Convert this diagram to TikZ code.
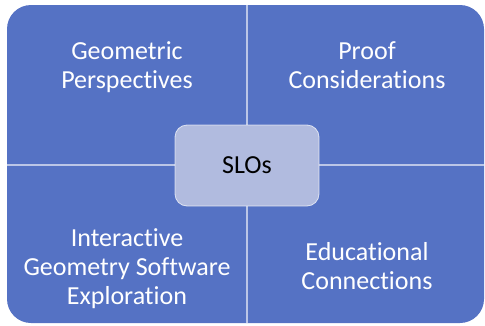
\documentclass[tikz,border=0pt]{standalone}
\usepackage{fontspec}
\setmainfont{Carlito}[Ligatures=CommonOff]
\usepackage{xcolor}
\usetikzlibrary{positioning}

\definecolor{quadblue}{RGB}{85,114,196}
\definecolor{sloslate}{RGB}{177,187,223}

\tikzset{
    quadtext/.style={text=white, align=center, font=\fontsize{26}{29}\selectfont},
    divider/.style={draw=white, draw opacity=0.6, line width=2pt},
}

\begin{document}
\begin{tikzpicture}[x=1pt, y=-1pt]
    \useasboundingbox (0,0) rectangle (485,325);

    % Quadrant background
    \fill[quadblue, rounded corners=24pt] (7,5) rectangle (484,323);

    % Dividers
    \coordinate (topmid) at (247,5);
    \coordinate (botmid) at (247,323);
    \coordinate (leftmid) at (7,165);
    \coordinate (rightmid) at (484,165);
    \draw[divider] (topmid) -- (botmid);
    \draw[divider] (leftmid) -- (rightmid);

    % Quadrant labels
    \node[quadtext] (geo) at (127,67) {Geometric\\Perspectives};
    \node[quadtext] (proof) at (367,65) {Proof\\Considerations};
    \node[quadtext] (igs) at (127,268.5) {Interactive\\Geometry Software\\Exploration};
    \node[quadtext] (edu) at (367,266) {Educational\\Connections};

    % Center box
    \draw[fill=sloslate, draw=white, draw opacity=0.7, line width=0.8pt, rounded corners=12pt]
        (175,125) rectangle (319,206);
    \node[font=\fontsize{26}{29}\selectfont, text=black] (slos) at (247,165.5) {SLOs};
\end{tikzpicture}
\end{document}
